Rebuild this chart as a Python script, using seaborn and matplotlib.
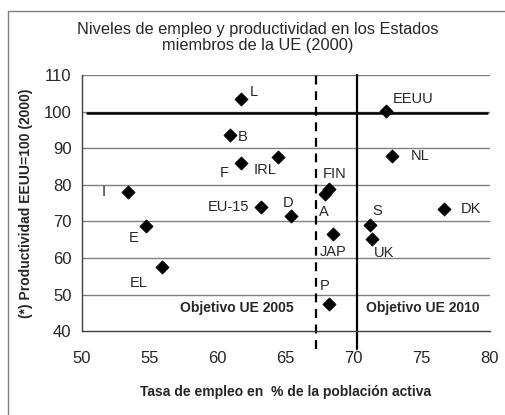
import numpy as np
import pandas as pd
import seaborn as sns
import matplotlib.pyplot as plt
from matplotlib.lines import Line2D

# datos
paises = ['L', 'B', 'F', 'IRL', 'I', 'EU-15', 'E', 'EL', 'D', 'FIN', 'A',
          'EEUU', 'NL', 'DK', 'S', 'JAP', 'UK', 'P']
empleo = [61.7, 60.9, 61.7, 64.4, 53.4, 63.2, 54.7, 55.9, 65.4, 68.2, 67.9,
          72.4, 72.8, 76.6, 71.2, 68.5, 71.3, 68.2]
productividad = [103.5, 93.6, 86.1, 87.7, 78.1, 74.0, 68.7, 57.6, 71.5, 79.0, 77.6,
                 100.2, 87.9, 73.4, 69.0, 66.6, 65.1, 47.4]
# desplazamiento de cada etiqueta (pixeles)
offsets = {'L': (13, 7), 'B': (13, -2), 'F': (-17, -10), 'IRL': (-13, -13),
           'I': (-24, 0), 'EU-15': (-33, 0), 'E': (-12, -12), 'EL': (-23, -16),
           'D': (-3, 13), 'FIN': (5, 15), 'A': (-1, -18), 'EEUU': (27, 12),
           'NL': (28, 0), 'DK': (27, 0), 'S': (7, 14), 'JAP': (0, -18),
           'UK': (13, -14), 'P': (-5, 18)}

df = pd.DataFrame({'pais': paises, 'empleo': empleo, 'prod': productividad})

sns.set_style('white')
plt.rcParams['font.family'] = ['Liberation Sans', 'DejaVu Sans']

fig = plt.figure(figsize=(5.05, 4.15), dpi=100)
ax = fig.add_axes([0.162, 0.202, 0.808, 0.617])

for yv in range(50, 111, 10):
    ax.axhline(yv, color='#808080', lw=1, zorder=0)

sns.scatterplot(data=df, x='empleo', y='prod', marker='D', color='black',
                s=45, edgecolor='black', ax=ax, zorder=3, legend=False)

for p, x, y in zip(paises, empleo, productividad):
    dx, dy = offsets[p]
    ax.annotate(p, (x, y), xytext=(dx, dy), textcoords='offset pixels',
                ha='center', va='center', fontsize=10.5)

# lineas de referencia
ax.plot([50.4, 79.8], [99.6, 99.6], color='black', lw=1.8, zorder=2)
ax.plot([67.2, 67.2], [35, 110], color='black', lw=1.6, ls=(0, (4, 3)),
        clip_on=False, zorder=2)
ax.plot([70.2, 70.2], [35, 110], color='black', lw=1.6, clip_on=False, zorder=2)

ax.text(61.4, 46.3, 'Objetivo UE 2005', ha='center', va='center',
        fontsize=10, fontweight='bold')
ax.text(75.1, 46.3, 'Objetivo UE 2010', ha='center', va='center',
        fontsize=10, fontweight='bold')

ax.set_xlim(50, 80)
ax.set_ylim(40, 110)
ax.set_xticks(range(50, 81, 5))
ax.set_xticks(np.arange(50, 81, 1), minor=True)
ax.set_yticks(range(40, 111, 10))
ax.tick_params(axis='x', which='major', direction='inout', length=8, width=1,
               labelsize=12, pad=10, color='#404040')
ax.tick_params(axis='x', which='minor', direction='in', length=4, width=1,
               color='#404040')
ax.tick_params(axis='y', which='major', direction='out', length=4, width=1,
               labelsize=12, color='#404040')
for s in ['top', 'right']:
    ax.spines[s].set_visible(False)
for s in ['left', 'bottom']:
    ax.spines[s].set_color('#404040')
    ax.spines[s].set_linewidth(1)

ax.set_xlabel('Tasa de empleo en  % de la población activa', fontsize=10,
              fontweight='bold', labelpad=14)
ax.set_ylabel('(*) Productividad EEUU=100 (2000)', fontsize=10,
              fontweight='bold', labelpad=8)
fig.suptitle('Niveles de empleo y productividad en los Estados\nmiembros de la UE (2000)',
             x=0.51, y=0.948, fontsize=11.8, linespacing=1.15)

# marco exterior
fig.add_artist(Line2D([0.016, 1.0], [0.973, 0.973], color='#808080', lw=1))
fig.add_artist(Line2D([0.016, 0.016], [0.0, 0.973], color='#808080', lw=1))

fig.savefig('out.png', dpi=100)
